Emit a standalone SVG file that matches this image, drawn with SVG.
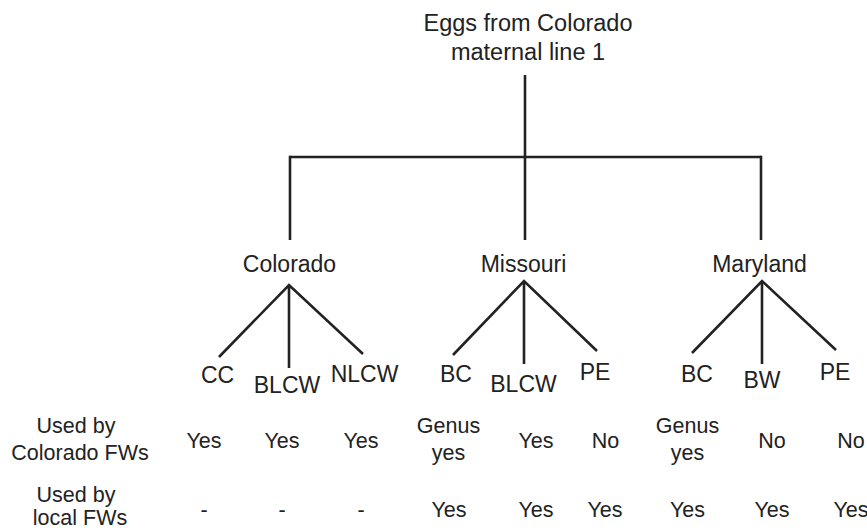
<svg xmlns="http://www.w3.org/2000/svg" width="867" height="530" viewBox="0 0 867 530">
<style>
text{font-family:"Liberation Sans",Arial,sans-serif;fill:#222;text-anchor:middle}
.t{font-size:23.5px}
.n{font-size:23px}
.c{font-size:21.5px}
.ln{stroke:#222;stroke-width:2.6;fill:none;stroke-linecap:butt}
</style>
<rect width="867" height="530" fill="#fff"/>
<g id="connectors" class="ln">
<path d="M525 75V240"/>
<path d="M290 157H761"/>
<path d="M290 155.7V240"/>
<path d="M761 155.7V240"/>
<path d="M219 357L289 285L363 354M289 285V368"/>
<path d="M453 355L524 281L597 351M524 281V364"/>
<path d="M692 353L762 281L836 350M762 281V364"/>
</g>
<g id="root"><text class="t" x="528" y="31">Eggs from Colorado</text><text class="t" x="528" y="60">maternal line 1</text></g>
<g id="colorado"><text class="n" x="289.5" y="272">Colorado</text></g>
<g id="missouri"><text class="n" x="523.5" y="272">Missouri</text></g>
<g id="maryland"><text class="n" x="759.5" y="272">Maryland</text></g>
<g id="co-cc"><text class="n" x="217.5" y="383">CC</text></g>
<g id="co-blcw"><text class="n" x="287" y="393">BLCW</text></g>
<g id="co-nlcw"><text class="n" x="364.5" y="382">NLCW</text></g>
<g id="mo-bc"><text class="n" x="456" y="382">BC</text></g>
<g id="mo-blcw"><text class="n" x="523.5" y="392">BLCW</text></g>
<g id="mo-pe"><text class="n" x="595" y="380">PE</text></g>
<g id="md-bc"><text class="n" x="697" y="382">BC</text></g>
<g id="md-bw"><text class="n" x="762" y="388">BW</text></g>
<g id="md-pe"><text class="n" x="835" y="380">PE</text></g>
<g id="row1" class="c">
<text class="c" x="76" y="433">Used by</text><text class="c" x="80" y="460">Colorado FWs</text>
<text class="c" x="204" y="448">Yes</text>
<text class="c" x="282" y="448">Yes</text>
<text class="c" x="361" y="448">Yes</text>
<text class="c" x="448.5" y="433">Genus</text><text class="c" x="448.5" y="460">yes</text>
<text class="c" x="536" y="448">Yes</text>
<text class="c" x="605.5" y="448">No</text>
<text class="c" x="687.5" y="433">Genus</text><text class="c" x="687.5" y="460">yes</text>
<text class="c" x="772" y="448">No</text>
<text class="c" x="851" y="448">No</text>
</g>
<g id="row2">
<text class="c" x="76" y="502">Used by</text><text class="c" x="80" y="525">local FWs</text>
<text class="c" x="204" y="517">-</text>
<text class="c" x="282" y="517">-</text>
<text class="c" x="361" y="517">-</text>
<text class="c" x="449" y="517">Yes</text>
<text class="c" x="536" y="517">Yes</text>
<text class="c" x="605" y="517">Yes</text>
<text class="c" x="687.5" y="517">Yes</text>
<text class="c" x="772" y="517">Yes</text>
<text class="c" x="851" y="517">Yes</text>
</g>
</svg>
